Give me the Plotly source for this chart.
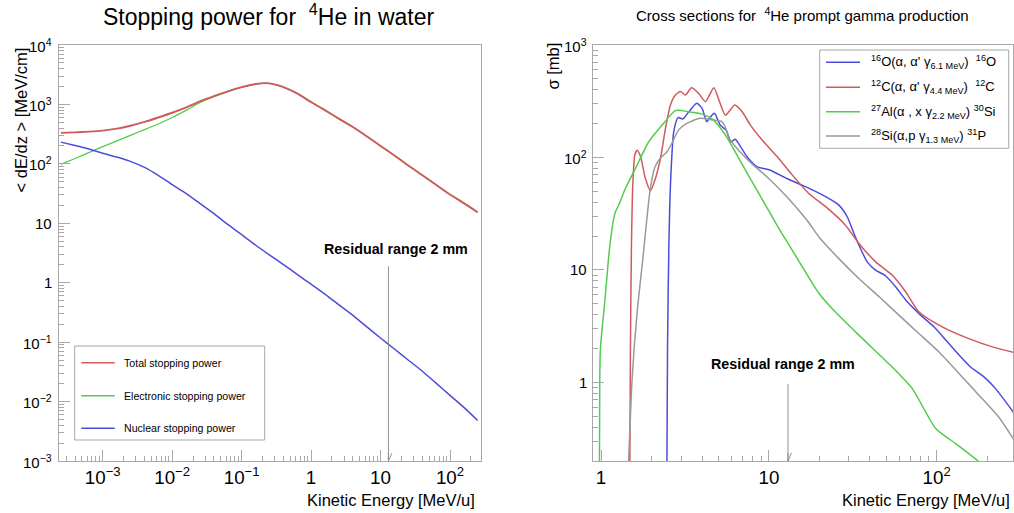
import math
import plotly.graph_objects as go

W, H = 1014, 513
FONT = "Liberation Sans"

# ---- Stopping power of 4He in water: <dE/dz> [MeV/cm] vs kinetic energy [MeV/u]
sp_energy = [2.5e-4, 4e-4, 6.3e-4, 1e-3, 1.6e-3, 2.5e-3, 4e-3, 6.3e-3, 0.01, 0.016,
             0.025, 0.04, 0.063, 0.1, 0.16, 0.25, 0.4, 0.63, 1, 1.6,
             2.5, 4, 6.3, 10, 16, 25, 40, 63, 100, 160, 250]
sp_total = [332, 339, 349, 363, 391, 437, 507, 603, 724, 891,
            1122, 1380, 1660, 1950, 2210, 2265, 1960, 1530, 1096, 794,
            577, 417, 292, 200, 137, 94, 64.4, 44.4, 30.5, 21.6, 15.3]
sp_electronic = [98, 123, 155, 195, 243, 302, 376, 468, 603, 804,
                 1072, 1349, 1645, 1940, 2205, 2262, 1958, 1528, 1095, 793,
                 576, 416, 292, 200, 137, 94, 64.4, 44.4, 30.5, 21.6, 15.3]
sp_nuclear = [232, 204, 178, 151, 130, 110, 87, 64, 44.7, 31.6,
              21.6, 14.5, 9.55, 6.46, 4.27, 2.95, 2.02, 1.38, 0.944, 0.638,
              0.427, 0.282, 0.182, 0.1175, 0.0759, 0.0501, 0.0324, 0.0204, 0.0127, 0.0079, 0.0048]
sp_names = ["Total stopping power", "Electronic stopping power", "Nuclear stopping power"]
sp_decades = [-3, -2, -1, 0, 1, 2, 3, 4]

# ---- Prompt gamma production cross sections [mb] vs kinetic energy [MeV/u]
o16_energy = [2.466, 2.489, 2.535, 2.6, 2.71, 2.877, 3.069, 3.334, 3.715, 4.0,
              4.266, 4.487, 4.742, 5.129, 5.559, 5.929, 6.295, 6.776, 7.396, 8.472,
              10.19, 12.79, 16.52, 21.78, 26.12, 29.31, 32.14, 35.16, 38.55, 43.25,
              49.55, 56.89, 66.83, 80.17, 96.4, 115.6, 139, 159.2, 191.4, 224.4, 290]
o16_xs = [0.15, 2.14, 16.6, 65, 169, 226, 220, 255, 303, 273,
          208, 230, 247, 194, 175, 138, 145, 125, 102, 83,
          77, 65, 55, 44.8, 37.7, 29.7, 21.1, 15.5, 11.8, 9.96,
          8.87, 7.08, 5.2, 3.96, 3.12, 2.3, 1.69, 1.37, 1.12, 0.88, 0.53]

c12_energy = [1.483, 1.496, 1.517, 1.545, 1.589, 1.641, 1.718, 1.837, 1.968, 2.109,
              2.259, 2.421, 2.588, 2.773, 2.972, 3.184, 3.459, 3.819, 4.188, 4.699,
              5.082, 5.508, 6.266, 6.934, 7.762, 9.12, 11.46, 13.77, 17.3, 21.8,
              28.6, 34.4, 43.3, 54.3, 65.3, 78.3, 107.9, 155.6, 214.8, 290]
c12_xs = [0.15, 2.14, 16.6, 56.8, 105, 116, 102, 65, 50.6, 65,
          98, 182, 292, 359, 385, 359, 417, 371, 313, 417,
          313, 238, 293, 255, 194, 143, 98, 70, 47.8, 36.5,
          25, 17.2, 11.8, 9.0, 6.4, 4.25, 3.12, 2.45, 2.07, 1.84]

al27_energy = [0.977, 0.982, 0.991, 1.06, 1.12, 1.19, 1.22, 1.274, 1.396, 1.603,
               1.923, 2.312, 2.773, 3.334, 4.0, 4.59, 5.51, 6.62, 7.94, 9.55,
               11.46, 13.77, 16.52, 19.86, 23.8, 34.4, 54.3, 71.6, 98.6, 129.7, 174.6, 200]
al27_xs = [0.15, 1.08, 2.0, 5.9, 15, 28.7, 33, 37.8, 53, 80,
           138, 194, 261, 255, 243, 220, 158, 98, 61, 37.7,
           23.4, 15, 9.6, 6.2, 4.54, 2.63, 1.37, 0.88, 0.39, 0.286, 0.203, 0.17]

si28_energy = [1.449, 1.531, 1.641, 1.77, 1.959, 2.099, 2.249, 2.466, 2.636, 2.891,
               3.243, 3.89, 4.677, 5.248, 5.483, 5.875, 6.745, 8.091, 9.727, 12.79,
               16.83, 20.23, 26.12, 34.36, 45.29, 59.57, 78.34, 103.3, 135.8, 178.6, 235, 290]
si28_xs = [0.15, 1.08, 4.25, 12.2, 51, 83, 98, 112, 133, 175,
           201, 223, 215, 208, 188, 143, 112, 85.5, 67.4, 44.8,
           27.8, 19, 12.6, 8.4, 5.8, 3.96, 2.72, 1.86, 1.2, 0.77, 0.49, 0.306]

xs_names = [
    "<sup>16</sup>O(α, α' γ<sub>6.1 MeV</sub>)  <sup>16</sup>O",
    "<sup>12</sup>C(α, α' γ<sub>4.4 MeV</sub>)  <sup>12</sup>C",
    "<sup>27</sup>Al(α , x γ<sub>2.2 MeV</sub>) <sup>30</sup>Si",
    "<sup>28</sup>Si(α,p γ<sub>1.3 MeV</sub>) <sup>31</sup>P",
]
xs_decades = [0, 1, 2, 3]

residual_range_energy = 13.0   # MeV/u, 2 mm residual range in water

RED, GREEN, BLUE, GRAY = "#cf5a5a", "#52cc4a", "#4c4cdc", "#999999"
FRAME = "#a8a8a8"
ARROW = "#888888"


def fx(p):
    return p / W


def fy(p):
    return 1 - p / H


def decade_label(n):
    if n == 0:
        return "1"
    if n == 1:
        return "10"
    return "10<sup>%s</sup>" % (str(n) if n > 0 else "\u2212" + str(-n))


fig = go.Figure()

# electronic first so the total curve stays on top where they coincide
for y, c, w in zip([sp_electronic, sp_nuclear, sp_total], [GREEN, BLUE, RED], [1.3, 1.5, 1.9]):
    fig.add_trace(go.Scatter(x=sp_energy, y=y, mode="lines", xaxis="x", yaxis="y",
                             line=dict(color=c, width=w, shape="spline", smoothing=0.6),
                             showlegend=False, hoverinfo="skip"))

for ex, ys, c in zip([o16_energy, c12_energy, al27_energy, si28_energy],
                     [o16_xs, c12_xs, al27_xs, si28_xs],
                     [BLUE, RED, GREEN, GRAY]):
    fig.add_trace(go.Scatter(x=ex, y=ys, mode="lines", xaxis="x2", yaxis="y2",
                             line=dict(color=c, width=1.5, shape="spline", smoothing=0.6),
                             showlegend=False, hoverinfo="skip"))

ydom = [fy(461), fy(45)]
axis_common = dict(
    type="log", dtick=1, exponentformat="power", automargin=False,
    showgrid=False, zeroline=False,
    showline=True, mirror=True, linecolor=FRAME, linewidth=1,
    ticks="inside", ticklen=11, tickcolor=FRAME, tickwidth=1,
    tickfont=dict(family=FONT, size=15, color="black"),
    minor=dict(ticks="inside", ticklen=5, tickcolor=FRAME, dtick="D1", showgrid=False),
)

fig.update_layout(
    width=W, height=H,
    margin=dict(l=0, r=0, t=0, b=0, autoexpand=False),
    paper_bgcolor="white", plot_bgcolor="white",
    font=dict(family=FONT, color="black"),
    xaxis=dict(domain=[fx(58.5), fx(480.7)], range=[-3.636, 2.442], anchor="y", **axis_common),
    yaxis=dict(domain=ydom, range=[-3, 4], anchor="x", showticklabels=False, **axis_common),
    xaxis2=dict(domain=[fx(592.7), fx(1013)], range=[-0.05, 2.455], anchor="y2", **axis_common),
    yaxis2=dict(domain=ydom, range=[math.log10(0.2), 3], anchor="x2", showticklabels=False,
                **axis_common),
)

ann = []
shapes = []

# y tick labels, right-aligned a few pixels left of each frame
for yref, decades, xr in (("y", sp_decades, 54), ("y2", xs_decades, 588.5)):
    for n in decades:
        ann.append(dict(x=fx(xr), y=n, xref="paper", yref=yref, showarrow=False,
                        text=decade_label(n), font=dict(family=FONT, size=15),
                        xanchor="right", yanchor="middle"))

# titles
ann.append(dict(x=fx(268), y=fy(15), xref="paper", yref="paper", showarrow=False,
                text="Stopping power for \u00a0<sup>4</sup>He in water",
                font=dict(family=FONT, size=23), xanchor="center", yanchor="middle"))
ann.append(dict(x=fx(802), y=fy(15), xref="paper", yref="paper", showarrow=False,
                text="Cross sections for \u00a0<sup>4</sup>He prompt gamma production",
                font=dict(family=FONT, size=15), xanchor="center", yanchor="middle"))

# axis titles
for xr in (477, 1011.5):
    ann.append(dict(x=fx(xr), y=fy(500), xref="paper", yref="paper", showarrow=False,
                    text="Kinetic Energy [MeV/u]", font=dict(family=FONT, size=16.5),
                    xanchor="right", yanchor="middle"))
ann.append(dict(x=fx(20), y=fy(120.5), xref="paper", yref="paper", showarrow=False,
                text="< dE/dz > [MeV/cm]", textangle=-90, font=dict(family=FONT, size=16.5),
                xanchor="center", yanchor="middle"))
ann.append(dict(x=fx(552), y=fy(66.5), xref="paper", yref="paper", showarrow=False,
                text="σ [mb]", textangle=-90, font=dict(family=FONT, size=16.5),
                xanchor="center", yanchor="middle"))

# residual range markers: vertical line with an open "V" head at the energy axis
lx = math.log10(residual_range_energy)
for xr, yr, ybot, ytop in (("x", "y", -3, math.log10(2.0)), ("x2", "y2", math.log10(0.2), 0)):
    ann.append(dict(x=lx, y=ybot, xref=xr, yref=yr, ax=lx, ay=ytop, axref=xr, ayref=yr,
                    showarrow=True, arrowhead=0, arrowwidth=0.9, arrowcolor=ARROW,
                    standoff=0, text=""))
    yanchor_val = 10 ** ybot
    for dx in (-3.5, 3.5):
        shapes.append(dict(type="line", xref=xr, yref=yr,
                           xsizemode="pixel", ysizemode="pixel",
                           xanchor=residual_range_energy, yanchor=yanchor_val,
                           x0=dx, y0=8, x1=0, y1=0, line=dict(color=ARROW, width=0.9)))

ann.append(dict(x=fx(395.5), y=fy(249.3), xref="paper", yref="paper", showarrow=False,
                text="<b>Residual range 2 mm</b>", font=dict(family=FONT, size=14.3),
                xanchor="center", yanchor="middle"))
ann.append(dict(x=fx(783.3), y=fy(364.3), xref="paper", yref="paper", showarrow=False,
                text="<b>Residual range 2 mm</b>", font=dict(family=FONT, size=14.3),
                xanchor="center", yanchor="middle"))

# legend boxes
shapes.append(dict(type="rect", xref="paper", yref="paper", x0=fx(74.7), x1=fx(264.7),
                   y0=fy(440), y1=fy(346), line=dict(color=FRAME, width=1), fillcolor="white"))
for name, c, yy in zip(sp_names, [RED, GREEN, BLUE], [362.7, 395.7, 428.3]):
    shapes.append(dict(type="line", xref="paper", yref="paper", x0=fx(81.3), x1=fx(114.7),
                       y0=fy(yy), y1=fy(yy), line=dict(color=c, width=1.5)))
    ann.append(dict(x=fx(122), y=fy(yy), xref="paper", yref="paper", showarrow=False,
                    text=name, font=dict(family=FONT, size=10.6), xanchor="left", yanchor="middle"))

shapes.append(dict(type="rect", xref="paper", yref="paper", x0=fx(819.7), x1=fx(1008.7),
                   y0=fy(148.3), y1=fy(50), line=dict(color=FRAME, width=1), fillcolor="white"))
for name, c, yy in zip(xs_names, [BLUE, RED, GREEN, GRAY], [62.3, 87.3, 111.7, 136]):
    shapes.append(dict(type="line", xref="paper", yref="paper", x0=fx(826), x1=fx(860),
                       y0=fy(yy), y1=fy(yy), line=dict(color=c, width=1.5)))
    ann.append(dict(x=fx(868.7), y=fy(yy), xref="paper", yref="paper", showarrow=False,
                    text=name, font=dict(family=FONT, size=13), xanchor="left", yanchor="middle"))

fig.update_layout(annotations=ann, shapes=shapes)
fig.write_html("out.html")
